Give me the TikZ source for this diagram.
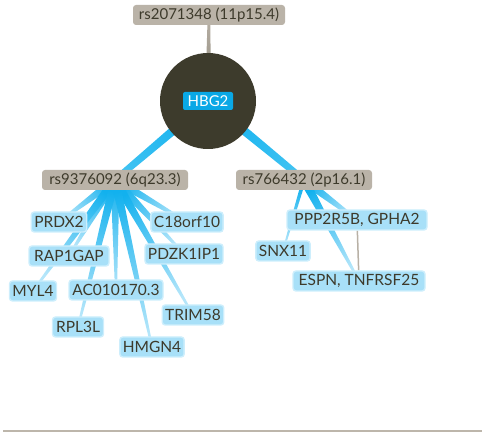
\documentclass[tikz,border=0pt]{standalone}
\usepackage{fontspec}
\setmainfont{Lato}
\usetikzlibrary{calc}

\definecolor{snpfill}{HTML}{BAB3A8}
\definecolor{inktext}{HTML}{3D3A2B}
\definecolor{hubfill}{HTML}{3D3B2C}
\definecolor{hbgfill}{HTML}{0AA8E6}
\definecolor{genefill}{HTML}{A8E0F8}
\definecolor{geneline}{HTML}{CDEEFC}
\definecolor{linkdark}{HTML}{12B1EE}
\definecolor{linkmid}{HTML}{3EC2F2}
\definecolor{linklight}{HTML}{B5E6FA}
\definecolor{stemdark}{HTML}{8B8578}
\definecolor{stemlight}{HTML}{B8B1A6}
\definecolor{rulegrey}{HTML}{BDB6AB}

\pgfdeclarelayer{links}
\pgfsetlayers{links,main}

% tapered, shaded connector: source, target, half width at source,
% half width at target, source colour, target colour
\newcommand{\taper}[6]{%
  \pgfmathanglebetweenpoints{\pgfpointanchor{#2}{center}}{\pgfpointanchor{#1}{center}}%
  \pgfmathsetmacro\taperangle{\pgfmathresult-90}%
  \path[top color=#5, bottom color=#6, shading angle=\taperangle]
    ($(#1)!#3!90:(#2)$) -- ($(#2)!#4!-90:(#1)$) --
    ($(#2)!#4!90:(#1)$) -- ($(#1)!#3!-90:(#2)$) -- cycle;
}

\tikzset{
  snpbox/.style={fill=snpfill, text=inktext, rounded corners=3pt,
    inner sep=0pt, minimum height=20pt, font=\fontsize{15}{17}\selectfont},
  genebox/.style={fill=genefill, draw=geneline, line width=1.4pt,
    text=inktext, rounded corners=3pt, inner xsep=3pt, inner ysep=0pt,
    minimum height=20pt, font=\fontsize{15.5}{17}\selectfont},
}

\begin{document}
\begin{tikzpicture}[x=1pt, y=-1pt]
  \useasboundingbox (0,0) rectangle (491,433);

  % central gene and its region
  \node[circle, fill=hubfill, minimum size=96pt, inner sep=0pt] (hub) at (208,101) {};
  \node[fill=hbgfill, text=white, rounded corners=2pt, inner sep=0pt,
        minimum width=50pt, minimum height=18pt,
        font=\fontsize{15}{17}\selectfont] (hbg) at (208,101) {HBG2};

  % SNP boxes
  \node[snpbox, minimum width=152pt] (s1) at (209,15) {rs2071348 (11p15.4)};
  \node[snpbox, minimum width=146pt] (s2) at (115,180) {rs9376092 (6q23.3)};
  \node[snpbox, minimum width=136pt] (s3) at (304,180) {rs766432 (2p16.1)};

  % genes near rs9376092
  \node[genebox, minimum width=54pt] (prdx) at (59,222) {PRDX2};
  \node[genebox, minimum width=70pt] (c18) at (187,222) {C18orf10};
  \node[genebox, minimum width=80pt] (rap) at (69,256) {RAP1GAP};
  \node[genebox, minimum width=76pt] (pdzk) at (184,254) {PDZK1IP1};
  \node[genebox, minimum width=43pt] (myl) at (33,291) {MYL4};
  \node[genebox, minimum width=94pt] (ac) at (116,290) {AC010170.3};
  \node[genebox, minimum width=51pt] (rpl) at (78,327) {RPL3L};
  \node[genebox, minimum width=59pt] (trim) at (193,315) {TRIM58};
  \node[genebox, minimum width=62pt] (hmgn) at (152,347) {HMGN4};

  % genes near rs766432
  \node[genebox, minimum width=140pt] (ppp) at (357,220) {PPP2R5B, GPHA2};
  \node[genebox, minimum width=52pt] (snx) at (283,251) {SNX11};
  \node[genebox, minimum width=132pt] (espn) at (359,281) {ESPN, TNFRSF25};

  \begin{pgfonlayer}{links}
    \taper{hub}{s1}{2.9pt}{1.3pt}{stemdark}{stemlight}
    \taper{hub}{s2}{4.8pt}{3.2pt}{linkdark}{linkmid}
    \taper{hub}{s3}{4.8pt}{3.2pt}{linkdark}{linkmid}

    \foreach \g in {prdx,c18,rap,pdzk,myl,ac,rpl,trim,hmgn}
      {\taper{s2}{\g}{4.5pt}{1pt}{linkdark}{linklight}}

    \taper{s3}{snx}{2pt}{0.8pt}{linkdark}{linklight}
    \taper{s3}{ppp}{4.5pt}{1.5pt}{linkdark}{linklight}
    \taper{s3}{espn}{4.5pt}{1pt}{linkdark}{linklight}

    \draw[stemlight, line width=1.5pt] (ppp) -- (espn);
  \end{pgfonlayer}

  % base rule
  \draw[rulegrey, line width=2pt] (3,431.5) -- (482,431.5);
\end{tikzpicture}
\end{document}
